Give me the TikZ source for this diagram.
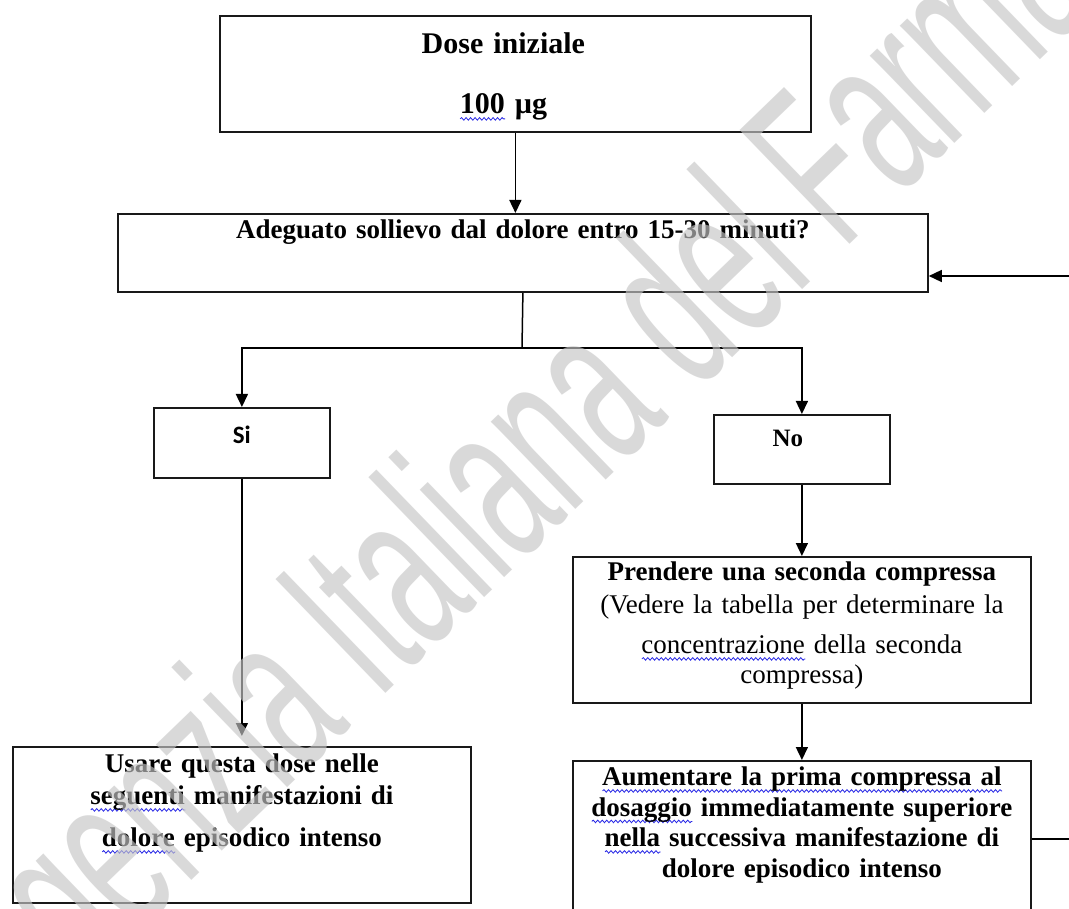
\documentclass[tikz,border=0pt]{standalone}
\usepackage{fontspec}
\setmainfont{Liberation Serif}
\newfontfamily\calibri{Carlito}
\newfontfamily\arialfont{Liberation Sans}
\usetikzlibrary{arrows.meta}
\usetikzlibrary{decorations.pathmorphing}

\definecolor{spellblue}{RGB}{40,40,230}
\definecolor{filigrana}{RGB}{198,198,198}

% wavy spell-check underline
\newsavebox{\ortbox}
\newcommand{\ortho}[1]{\leavevmode\sbox\ortbox{#1}\rlap{\tikz[baseline=0pt]\draw[spellblue, line width=0.8pt, decorate, decoration={snake, amplitude=1.3pt, segment length=4.5pt}] (0pt,-5pt) -- (\wd\ortbox,-5pt);}\usebox\ortbox}

\tikzset{
  box/.style={draw=black!90, line width=1.8pt, inner xsep=0pt, inner ysep=0pt, align=center, anchor=north west},
  testo/.style={font=\fontsize{27}{32}\selectfont\bfseries},
  freccia/.style={-{Triangle[length=13pt,width=12pt]}, line width=1.5pt},
  linea/.style={line width=1.5pt},
}

\begin{document}
\begin{tikzpicture}[x=1pt, y=-1pt]
        \useasboundingbox[fill=white] (0,0) rectangle (1069,909);
        \clip (0,0) rectangle (1069,909);

        \node [box, text width=591pt, text height=38pt, text depth=78pt, font=\fontsize{30}{36}\selectfont\bfseries] (dose) at (219,15)
            {\hspace*{-24pt}Dose iniziale\\[24pt]\hspace*{-24pt}\ortho{100} µg};
        \node [box, testo, text width=810pt, text height=25pt, text depth=53pt] (quest) at (117,213)
            {Adeguato sollievo dal dolore entro 15-30 minuti?};

        \node [box, text width=176pt, text height=36pt, text depth=34pt, font=\calibri\fontsize{25}{30}\selectfont\bfseries] (si) at (153,407) {Si};
        \node [box, text width=176pt, text height=32pt, text depth=37pt, font=\fontsize{25}{30}\selectfont\bfseries] (no) at (713,414) {\hspace*{-28pt}No};

        \node [box, testo, text width=458pt, text height=26pt, text depth=130pt] (usare) at (12,746)
            {Usare questa dose nelle\\\ortho{seguenti} manifestazioni di\\[10pt]\ortho{dolore} episodico intenso};
        \node [box, text width=458pt, text height=24pt, text depth=122pt, font=\fontsize{27}{33}\selectfont] (prendere) at (572,556)
            {\textbf{Prendere una seconda compressa}\\(Vedere la tabella per determinare la\\[7pt]\ortho{concentrazione} della seconda\\[-3pt]compressa)};
        \node [box, text width=458pt, text height=25pt, text depth=131pt, font=\fontsize{27}{30.5}\selectfont\bfseries] (aumentare) at (572,760)
            {\ortho{Aumentare la prima compressa al}\\\ortho{dosaggio} immediatamente superiore\\\ortho{nella} successiva manifestazione di\\dolore episodico intenso};

        \coordinate (bivio) at (522,348);
        \coordinate (giro) at (1120,276);

        \path[freccia]
            (dose.south) edge (dose.south |- quest.north)
            (no.south) edge (prendere.north)
            (prendere.south) edge (aumentare.north)
            (si.south) edge [shorten >=10pt] (usare.north)
            ;
        \draw[linea] (quest.south) -- (bivio);
        \draw[freccia] (bivio) -| (si.north);
        \draw[freccia] (bivio) -| (no.north);
        \draw[freccia] (aumentare.east) -| (giro) -- (quest.east |- giro);

        % watermark
        \node [anchor=base west, rotate=44, text=filigrana, text opacity=0.65, inner sep=0pt, font=\arialfont\fontsize{230}{230}\selectfont] (marchio) at (23,1043)
            {\scalebox{0.55}[1]{Agenzia Italiana del Farmaco}};
\end{tikzpicture}
\end{document}
